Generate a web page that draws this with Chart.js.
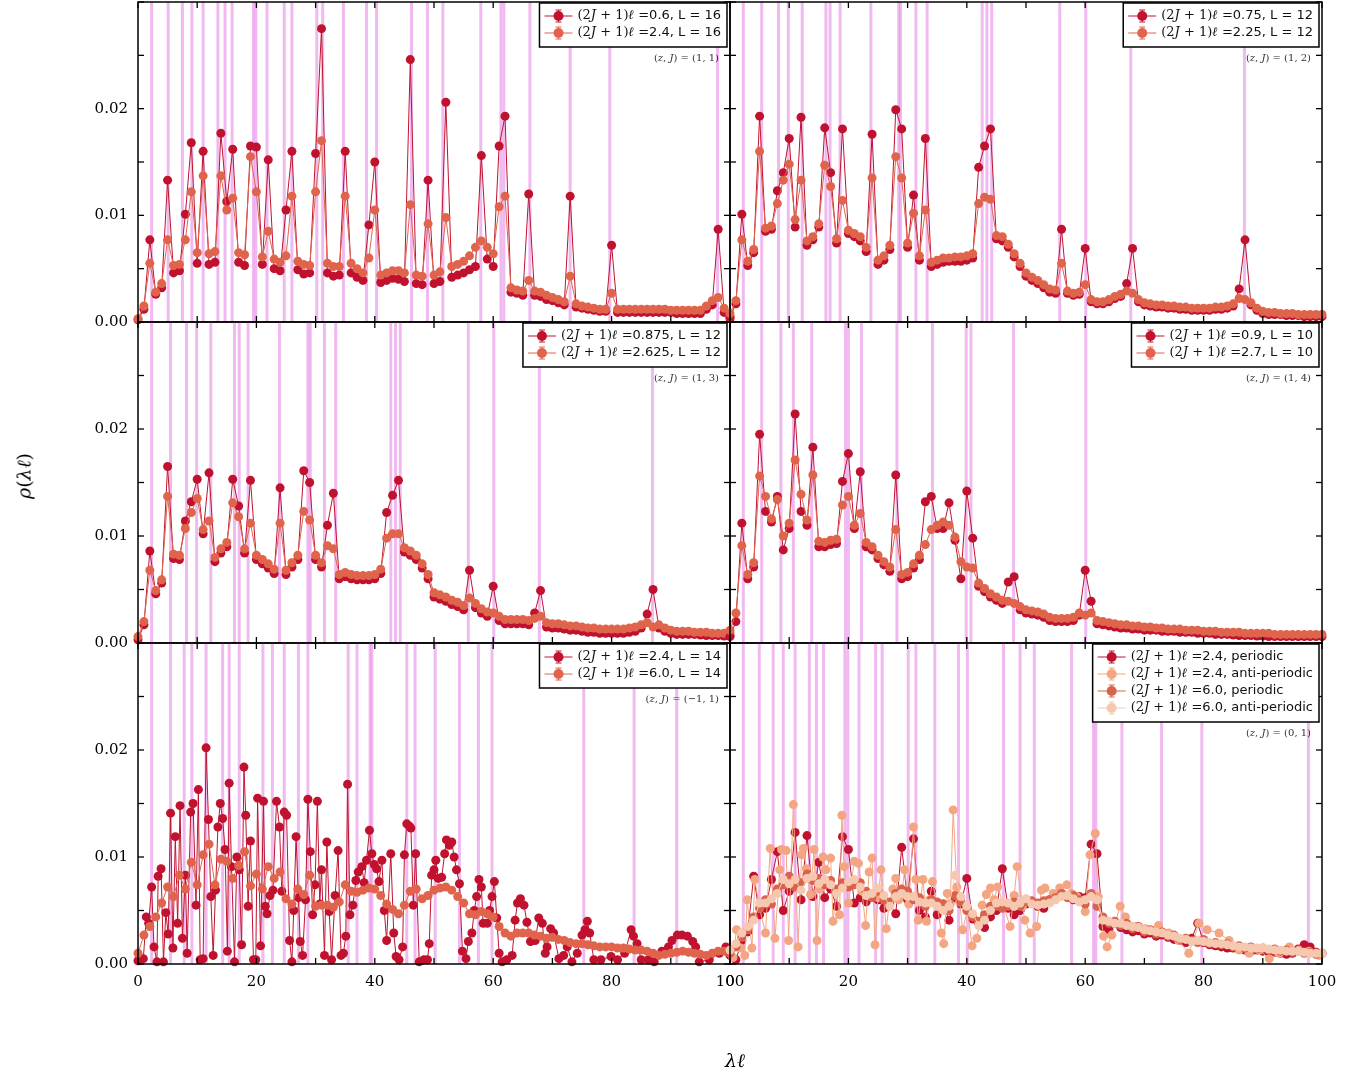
<!DOCTYPE html>
<html>
<head>
<meta charset="utf-8">
<script src="https://cdn.jsdelivr.net/npm/chart.js@4.4.1/dist/chart.umd.min.js"></script>
<style>
  body { margin: 0; background: #fff; width: 1372px; height: 1080px; position: relative; overflow: hidden; }
  canvas { position: absolute; left: 0; top: -40px; }
  .axt { position: absolute; font: 19px "DejaVu Serif", serif; color: #000; white-space: nowrap; }
  #ylab { left: 24px; top: 476px; transform: translate(-50%, -50%) rotate(-90deg); }
  #xlab { left: 735px; top: 1060px; transform: translate(-50%, -50%); }
</style>
</head>
<body>
<canvas id="c0" width="1372" height="1120"></canvas>
<canvas id="c1" width="1372" height="1120"></canvas>
<canvas id="c2" width="1372" height="1120"></canvas>
<canvas id="c3" width="1372" height="1120"></canvas>
<canvas id="c4" width="1372" height="1120"></canvas>
<canvas id="c5" width="1372" height="1120"></canvas>
<div id="ylab" class="axt"><i>ρ</i>(<i>λℓ</i>)</div>
<div id="xlab" class="axt"><i>λℓ</i></div>
<script>
// all densities in units of 1e-3
const xGrid = [0,1,2,3,4,5,6,7,8,9,10,11,12,13,14,15,16,17,18,19,20,21,22,23,24,25,26,27,28,29,
  30,31,32,33,34,35,36,37,38,39,40,41,42,43,44,45,46,47,48,49,50,51,52,53,54,55,56,57,58,59,
  60,61,62,63,64,65,66,67,68,69,70,71,72,73,74,75,76,77,78,79,80,81,82,83,84,85,86,87,88,89,
  90,91,92,93,94,95,96,97,98,99,100];

// (z,J) = (1,1)
const rhoTL06 = [0.2,1.2,7.7,2.6,3.2,13.3,4.6,4.8,10.1,16.8,
  5.5,16.0,5.4,5.6,17.7,11.3,16.2,5.6,5.3,16.5,
  16.4,5.4,15.2,5.0,4.8,10.5,16.0,4.9,4.5,4.6,
  15.8,27.5,4.6,4.3,4.4,16.0,4.6,4.2,3.9,9.1,
  15.0,3.7,3.9,4.1,4.0,3.8,24.6,3.6,3.5,13.3,
  3.6,3.8,20.6,4.2,4.4,4.6,4.9,5.2,15.6,5.9,
  5.2,16.5,19.3,2.8,2.7,2.5,12.0,2.5,2.4,2.1,
  2.0,1.8,1.6,11.8,1.4,1.3,1.2,1.1,1.0,1.0,
  7.2,0.9,0.9,0.9,0.9,0.9,0.9,0.9,0.9,0.9,
  0.9,0.8,0.8,0.8,0.8,0.8,1.2,1.6,8.7,0.9,
  0.3];
const rhoTL24 = [0.3,1.5,5.5,2.8,3.6,7.7,5.3,5.4,7.7,12.2,
  6.5,13.7,6.4,6.6,13.7,10.5,11.6,6.5,6.3,15.5,
  12.2,6.1,8.5,5.9,5.6,6.2,11.8,5.7,5.4,5.3,
  12.2,17.0,5.5,5.2,5.2,11.8,5.5,5.0,4.6,6.0,
  10.5,4.4,4.6,4.8,4.8,4.6,11.0,4.4,4.3,9.2,
  4.4,4.7,9.8,5.2,5.4,5.7,6.2,7.0,7.6,7.0,
  6.4,10.8,11.8,3.2,3.0,2.9,3.9,2.9,2.8,2.5,
  2.3,2.1,1.9,4.3,1.7,1.5,1.4,1.3,1.2,1.2,
  2.7,1.2,1.2,1.2,1.2,1.2,1.2,1.2,1.2,1.2,
  1.1,1.1,1.1,1.1,1.1,1.1,1.5,2.0,2.3,1.3,
  0.5];
const pinkTL = [2.3,5.1,7.5,9.1,11.0,13.5,14.7,15.9,19.5,19.9,21.8,24.7,26.0,30.2,31.2,34.7,
  38.6,40.3,46.2,48.9,51.5,57.9,61.3,61.8,66.2,73.0,79.7,97.9];

// (z,J) = (1,2)
const rhoTR075 = [0.5,1.7,10.1,5.3,6.5,19.3,8.5,8.7,12.3,14.0,
  17.2,8.9,19.2,7.2,7.7,8.9,18.2,14.0,7.4,18.1,
  8.3,8.0,7.6,6.6,17.6,5.4,5.8,6.8,19.9,18.1,
  7.0,11.9,5.8,17.2,5.2,5.4,5.6,5.7,5.7,5.7,
  5.8,6.0,14.5,16.5,18.1,7.8,7.6,7.0,6.1,5.2,
  4.3,3.9,3.6,3.2,2.8,2.7,8.7,2.7,2.5,2.6,
  6.9,1.9,1.7,1.7,1.9,2.2,2.4,3.6,6.9,1.9,
  1.6,1.5,1.4,1.4,1.3,1.3,1.2,1.2,1.1,1.1,
  1.1,1.1,1.2,1.2,1.3,1.5,3.1,7.7,1.6,1.1,
  0.8,0.7,0.7,0.7,0.6,0.6,0.6,0.5,0.5,0.5,
  0.5];
const rhoTR225 = [0.8,2.0,7.7,5.7,6.8,16.0,8.8,9.0,11.1,13.3,
  14.8,9.6,13.3,7.6,8.0,9.2,14.7,12.7,7.8,11.4,
  8.6,8.3,8.0,7.0,13.5,5.8,6.2,7.2,15.5,13.5,
  7.4,10.2,6.2,10.5,5.6,5.8,6.0,6.0,6.1,6.1,
  6.2,6.4,11.1,11.7,11.5,8.1,8.0,7.3,6.4,5.5,
  4.6,4.2,3.9,3.5,3.1,3.0,5.5,2.9,2.7,2.8,
  3.5,2.1,1.9,1.9,2.1,2.4,2.6,2.9,2.7,2.1,
  1.8,1.7,1.6,1.6,1.5,1.5,1.4,1.4,1.3,1.3,
  1.3,1.3,1.4,1.4,1.5,1.7,2.2,2.1,1.8,1.3,
  1.0,0.9,0.9,0.8,0.8,0.8,0.7,0.7,0.7,0.7,
  0.7];
const pinkTR = [2.25,5.35,8.2,9.85,12.2,16.2,16.9,18.6,23.8,28.5,28.8,31.4,33.3,42.6,43.4,44.2,
  55.7,60.1,67.7,86.9];

// (z,J) = (1,3)
const rhoML0875 = [0.3,1.7,8.6,4.6,5.6,16.5,7.9,7.8,11.4,13.2,
  15.3,10.2,15.9,7.6,8.4,9.0,15.3,12.8,8.4,15.2,
  7.8,7.4,7.0,6.5,14.5,6.4,7.1,7.8,16.1,15.0,
  7.8,7.1,11.0,14.0,6.0,6.2,6.0,5.9,5.9,5.9,
  6.0,6.5,12.2,13.8,15.2,8.5,8.2,7.8,7.0,6.0,
  4.3,4.1,3.9,3.6,3.4,3.1,6.8,3.3,2.8,2.5,
  5.3,2.1,1.8,1.8,1.8,1.8,1.7,2.8,4.9,1.5,
  1.4,1.4,1.3,1.2,1.2,1.1,1.0,1.0,0.9,0.9,
  0.9,0.9,0.9,1.0,1.1,1.4,2.7,5.0,1.4,1.1,
  0.9,0.8,0.8,0.8,0.8,0.75,0.7,0.7,0.7,0.65,
  0.65];
const rhoML2625 = [0.6,2.0,6.8,4.9,5.9,13.7,8.3,8.2,10.7,12.2,
  13.5,10.6,11.4,8.0,8.8,9.4,13.1,11.8,8.8,11.2,
  8.2,7.8,7.4,6.9,11.2,6.8,7.5,8.2,12.3,11.5,
  8.2,7.5,9.1,8.8,6.4,6.6,6.4,6.3,6.3,6.3,
  6.4,6.9,9.8,10.2,10.2,8.9,8.6,8.2,7.4,6.4,
  4.7,4.5,4.3,4.0,3.8,3.5,4.2,3.7,3.2,2.9,
  2.8,2.5,2.2,2.2,2.2,2.2,2.1,2.3,2.5,1.9,
  1.8,1.8,1.7,1.6,1.6,1.5,1.4,1.4,1.3,1.3,
  1.3,1.3,1.3,1.4,1.5,1.7,1.9,1.5,1.7,1.4,
  1.2,1.1,1.1,1.1,1.0,1.0,1.0,0.9,0.9,0.9,
  0.9];
const pinkML = [2.3,5.5,8.2,9.9,12.3,16.3,17.1,18.6,23.9,28.7,29.1,31.5,33.4,42.7,43.5,44.3,
  55.8,60.1,67.8,86.9];

// (z,J) = (1,4)
const rhoMR09 = [0.6,2.0,11.2,6.0,7.1,19.5,12.3,11.3,13.7,8.7,
  10.7,21.4,12.3,11.0,18.3,9.0,9.0,9.2,9.3,15.1,
  17.7,10.7,16.0,9.0,8.7,7.9,7.3,6.7,15.7,6.0,
  6.2,7.0,7.8,13.2,13.7,10.7,10.7,13.1,9.6,6.0,
  14.2,9.8,5.3,4.8,4.3,4.0,3.7,5.7,6.2,3.1,
  2.8,2.7,2.6,2.4,2.1,2.0,2.0,2.0,2.1,2.6,
  6.8,3.9,1.8,1.7,1.6,1.5,1.4,1.4,1.3,1.3,
  1.2,1.2,1.2,1.1,1.1,1.1,1.0,1.0,1.0,0.9,
  0.9,0.9,0.8,0.8,0.8,0.75,0.7,0.7,0.7,0.65,
  0.65,0.6,0.6,0.6,0.6,0.6,0.6,0.6,0.6,0.6,
  0.6];
const rhoMR27 = [1.2,2.8,9.1,6.4,7.5,15.6,13.7,11.6,13.4,10.0,
  11.2,17.1,13.9,11.5,15.7,9.5,9.4,9.6,9.7,12.9,
  13.7,11.0,12.1,9.4,9.0,8.2,7.6,7.1,10.6,6.4,
  6.6,7.4,8.2,9.2,10.6,11.0,11.3,11.0,9.9,7.6,
  7.1,7.0,5.6,5.1,4.6,4.3,4.0,3.9,3.7,3.4,
  3.1,3.0,2.9,2.7,2.4,2.3,2.3,2.3,2.4,2.8,
  2.6,2.8,2.1,2.0,1.9,1.8,1.7,1.7,1.6,1.6,
  1.5,1.5,1.4,1.4,1.3,1.3,1.3,1.2,1.2,1.2,
  1.1,1.1,1.1,1.0,1.0,1.0,1.0,0.9,0.9,0.9,
  0.9,0.9,0.8,0.8,0.8,0.8,0.8,0.8,0.8,0.8,
  0.8];
const pinkMR = [2.25,5.35,8.6,10.7,13.8,19.5,20.0,22.2,28.2,34.2,39.9,40.7,47.9,60.1];

// (z,J) = (-1,1)
const blDarkX = [0,0.9,1.4,1.8,2.3,2.7,3.2,3.4,3.9,4.3,
  4.7,5.1,5.5,5.9,6.3,6.7,7.1,7.5,8.0,8.3,
  8.9,9.3,9.8,10.2,10.5,11.0,11.5,11.9,12.3,12.7,
  13.1,13.5,13.9,14.3,14.7,15.1,15.4,15.8,16.3,16.7,
  17.1,17.5,17.9,18.2,18.6,19.0,19.5,19.9,20.2,20.7,
  21.2,21.5,21.8,22.3,22.8,23.4,23.9,24.3,24.7,25.1,
  25.6,26.0,26.3,26.7,27.1,27.4,27.8,28.3,28.7,29.1,
  29.5,29.9,30.3,30.7,31.0,31.5,31.9,32.3,32.7,33.3,
  33.8,34.3,34.7,35.1,35.4,35.8,36.3,36.8,37.2,37.8,
  38.2,38.6,39.1,39.5,39.9,40.3,40.7,41.2,41.6,42.0,
  42.7,43.2,43.6,44.1,44.7,45.0,45.4,45.8,46.1,46.5,
  46.9,47.5,48.3,48.9,49.2,49.6,50.0,50.3,50.7,51.3,
  51.8,52.1,52.6,53.0,53.4,53.8,54.3,54.8,55.4,55.8,
  56.4,56.8,57.2,57.6,58.0,58.3,59.0,59.4,59.8,60.2,
  60.6,61.0,61.5,62.3,63.2,63.7,64.1,64.6,65.2,65.7,
  66.3,67.1,67.7,68.3,68.8,69.1,69.7,70.2,71.1,71.9,
  72.5,73.3,74.2,75.0,75.5,75.9,76.3,77.0,78.2,79.9,
  81.0,82.2,83.3,83.7,84.3,85.0,86.2,87.2,88.5,89.6,
  90.2,91.1,91.9,92.8,93.7,94.2,94.8,96.5,98.2,99.3,
  100];
const blDarkY = [0.3,0.5,4.4,3.8,7.2,1.6,0.2,8.2,8.9,0.2,
  4.8,2.8,14.1,1.5,11.9,3.8,14.8,2.4,8.3,1.0,
  14.2,15.0,5.5,16.3,0.4,0.5,20.2,13.5,6.3,0.8,
  6.9,12.8,15.0,13.6,10.7,1.2,16.9,9.1,0.2,10.0,
  8.8,1.8,18.4,13.9,5.4,11.5,0.4,0.4,15.5,1.7,
  15.2,5.4,4.7,6.4,6.9,15.2,12.8,6.8,14.2,13.9,
  2.2,0.2,5.0,11.9,6.2,2.1,0.8,6.0,15.4,10.5,
  4.6,7.4,15.2,5.6,8.8,0.8,11.4,4.9,0.4,6.4,
  10.6,0.8,1.0,2.6,16.8,4.6,5.5,7.8,8.6,9.1,
  7.6,9.7,12.5,10.3,9.3,8.9,7.7,9.7,5.0,2.2,
  10.3,2.9,0.7,0.4,1.6,10.2,13.1,12.9,12.7,5.5,
  10.3,0.2,0.4,0.4,1.9,8.3,8.8,9.7,8.0,8.1,
  10.3,11.6,11.1,11.4,10.0,8.8,7.5,1.2,0.5,2.1,
  2.9,5.0,6.3,7.9,7.2,3.8,3.8,5.0,6.3,7.7,
  4.3,1.0,0.2,0.4,0.8,4.1,5.7,6.1,5.5,3.9,
  2.1,2.2,4.3,3.8,1.0,1.6,3.3,2.9,0.5,0.8,
  1.6,0.2,1.0,2.7,3.2,4.0,2.9,0.4,0.4,0.7,
  0.4,1.0,3.2,2.6,1.9,0.4,0.4,0.2,1.2,1.6,
  2.2,2.7,2.7,2.6,2.1,1.6,0.2,0.4,1.0,1.6,
  1.3];
const rhoBL60 = [1.0,2.7,3.5,4.4,5.7,7.2,6.3,8.3,7.0,9.5,
  7.4,10.2,11.2,7.4,9.8,9.6,8.0,9.2,10.5,7.3,
  8.4,7.0,9.1,8.0,8.6,6.1,5.6,7.0,6.5,8.3,
  5.4,5.5,5.5,5.3,5.8,7.4,6.8,6.7,6.9,7.1,
  7.0,6.4,5.6,5.1,4.7,5.5,6.8,7.0,6.1,6.4,
  6.9,7.1,7.2,6.9,6.3,5.7,4.7,4.6,4.9,4.7,
  4.4,3.5,2.9,2.6,2.9,2.9,2.9,2.7,2.6,2.4,
  2.5,2.3,2.2,2.0,1.9,1.9,1.8,1.7,1.6,1.6,
  1.6,1.5,1.5,1.4,1.3,1.3,1.2,1.0,0.8,0.9,
  1.0,1.1,1.2,1.1,1.0,0.9,0.8,1.0,1.2,1.2,
  1.2];
const pinkBL = [2.3,5.5,7.8,9.1,11.5,14.3,15.4,17.1,21.1,22.7,24.7,27.1,28.7,35.5,37.0,39.2,39.5,
  45.4,46.8,50.2,54.3,57.5,59.8,75.3,83.8,91.0];

// (z,J) = (0,1)
const brPer24 = [0.8,0.4,2.2,3.0,8.2,4.6,5.2,7.9,10.5,5.0,
  6.8,12.3,6.0,12.0,6.3,9.5,6.2,7.0,5.4,11.9,
  10.7,5.7,6.2,5.8,6.4,6.0,5.2,5.6,4.7,10.9,
  6.0,11.7,5.0,4.4,6.8,4.6,5.6,4.1,6.2,5.6,
  8.0,4.2,3.8,3.4,4.4,5.0,8.9,5.2,4.6,5.0,
  5.6,5.8,5.4,5.2,6.0,6.4,6.6,6.3,6.0,6.3,
  6.2,11.2,10.3,3.5,3.2,3.8,3.4,3.2,3.0,3.1,
  2.8,2.9,2.6,2.7,2.5,2.3,2.2,2.0,2.4,3.8,
  2.0,1.8,1.7,1.6,1.5,1.5,1.4,1.3,1.2,1.3,
  1.2,1.1,1.1,1.0,0.9,1.0,1.4,1.8,1.6,1.1,
  1.0];
const brAnti24X = [0.5,1.1,1.8,2.5,2.9,3.7,4.2,5.0,6.0,6.8,
  7.6,8.4,8.7,9.5,9.9,10.7,11.5,12.1,12.4,12.9,
  13.6,14.2,14.7,15.2,15.7,16.2,17.0,17.4,18.0,18.5,
  18.9,19.3,20.0,20.5,21.0,21.7,22.3,22.9,23.5,24.0,
  24.5,25.0,25.5,26.4,26.9,27.5,28.0,28.5,29.1,29.5,
  30.2,31.0,31.4,31.8,32.6,33.2,33.7,34.2,35.0,35.7,
  36.1,36.7,37.2,37.7,38.3,38.8,39.3,40.1,40.9,41.7,
  42.6,43.3,44.0,44.6,45.2,46.2,47.3,48.0,48.5,49.4,
  49.8,50.7,51.8,52.6,53.2,54.6,55.7,56.9,57.7,58.6,
  60.0,60.8,61.7,62.2,63.1,63.7,64.5,65.9,66.8,68.5,
  70.2,72.4,74.1,75.8,77.5,79.2,80.6,82.6,84.3,86.0,
  87.7,89.4,91.1,92.8,94.5,96.1,97.8,99.5];
const brAnti24Y = [0.6,3.2,1.5,0.8,6.0,1.5,7.9,5.2,2.9,10.8,
  2.4,8.8,10.7,10.6,2.2,14.9,1.6,10.2,10.8,8.9,
  6.5,10.7,2.2,7.0,10.0,8.8,9.9,4.0,6.8,4.6,
  13.9,9.1,5.7,7.6,9.6,9.4,6.8,3.6,8.6,9.9,
  1.8,6.2,8.8,3.3,5.7,7.0,8.0,6.0,6.9,8.8,
  5.6,12.8,7.9,4.1,7.9,4.0,6.0,7.7,5.5,2.9,
  1.9,6.6,5.6,14.4,7.2,5.8,3.2,5.0,1.7,2.4,
  5.5,6.5,7.1,6.0,7.2,5.5,3.5,6.4,9.1,5.4,
  4.1,2.9,3.5,6.9,7.1,6.6,7.1,7.4,6.6,6.3,
  4.9,10.2,12.2,6.3,2.6,1.6,2.7,5.4,4.4,3.5,
  3.3,3.6,2.9,2.2,1.0,3.8,3.2,2.9,2.2,1.3,
  1.0,1.3,0.5,1.0,1.6,1.3,1.2,0.8];
const brPer60 = [1.0,1.6,2.5,3.2,4.4,5.2,6.0,5.6,7.0,7.4,
  8.2,7.2,7.6,8.4,7.8,8.0,7.4,7.8,7.0,7.6,
  7.2,7.4,7.6,6.8,6.2,6.8,6.0,5.8,6.6,7.0,
  6.8,6.0,6.2,5.4,6.0,5.8,5.6,5.0,6.4,5.8,
  5.0,4.4,4.0,4.6,5.4,5.4,5.2,5.4,5.8,5.4,
  5.8,5.9,5.7,5.9,6.0,6.2,6.6,6.2,6.4,6.0,
  5.6,6.6,5.4,4.4,3.8,4.0,3.6,3.8,3.3,3.5,
  3.0,3.2,2.8,3.0,2.6,2.7,2.3,2.4,2.2,2.0,
  2.3,1.9,2.0,1.8,1.9,1.6,1.7,1.5,1.6,1.4,
  1.5,1.3,1.4,1.2,1.3,1.1,1.2,1.0,1.1,0.9,
  1.0];
const brAnti60 = [1.3,1.9,2.9,3.5,4.1,5.7,5.7,6.1,6.6,7.9,
  7.5,7.9,6.9,8.0,8.2,7.5,7.9,7.4,6.6,7.1,
  7.7,7.9,7.2,6.4,6.6,7.1,6.4,5.4,6.3,6.6,
  6.3,6.3,5.8,5.7,5.7,5.4,5.0,5.4,8.3,6.3,
  5.4,4.7,3.6,4.1,5.0,5.7,5.8,5.7,5.4,5.7,
  6.1,5.6,5.5,5.6,5.7,6.0,6.3,6.4,6.1,5.8,
  6.0,6.3,6.0,4.1,4.0,3.8,3.8,3.6,3.5,3.4,
  3.2,3.1,3.0,2.9,2.7,2.6,2.4,2.3,2.1,2.2,
  2.1,2.0,1.9,1.9,1.8,1.7,1.6,1.6,1.5,1.5,
  1.5,1.4,1.3,1.3,1.2,1.2,1.2,1.1,1.0,1.0,
  1.0];
const pinkBR = [2.25,4.95,7.3,9.0,11.0,13.4,14.6,15.8,19.4,19.9,21.8,24.6,25.7,30.1,31.4,34.6,
  38.6,40.1,46.2,49.0,51.4,57.7,61.4,61.8,66.2,72.9,79.7,97.7];

const DARK = "#c0122f";
const ORANGE = "#e0644c";
const SALMON = "#f4a582";
const MID = "#d9624d";
const LIGHT = "#f6c8b0";
const PINK = "rgba(230, 140, 230, 0.6)";
const SERIF = '"DejaVu Serif", serif';
const SANS = '"DejaVu Sans", sans-serif';
const LEG_PX = 13;
const SHIFT = 40; // canvases start 40px above the page so the top row gets its own margin

const panels = [
  { id: "c0", col: 0, row: 0, pink: pinkTL, note: ["(", "z", ", ", "J", ") = (1, 1)"], series: [
    { label: "(2J + 1)ℓ =0.6, L = 16", x: xGrid, y: rhoTL06, color: DARK },
    { label: "(2J + 1)ℓ =2.4, L = 16", x: xGrid, y: rhoTL24, color: ORANGE } ] },
  { id: "c1", col: 1, row: 0, pink: pinkTR, note: ["(", "z", ", ", "J", ") = (1, 2)"], series: [
    { label: "(2J + 1)ℓ =0.75, L = 12", x: xGrid, y: rhoTR075, color: DARK },
    { label: "(2J + 1)ℓ =2.25, L = 12", x: xGrid, y: rhoTR225, color: ORANGE } ] },
  { id: "c2", col: 0, row: 1, pink: pinkML, note: ["(", "z", ", ", "J", ") = (1, 3)"], series: [
    { label: "(2J + 1)ℓ =0.875, L = 12", x: xGrid, y: rhoML0875, color: DARK },
    { label: "(2J + 1)ℓ =2.625, L = 12", x: xGrid, y: rhoML2625, color: ORANGE } ] },
  { id: "c3", col: 1, row: 1, pink: pinkMR, note: ["(", "z", ", ", "J", ") = (1, 4)"], series: [
    { label: "(2J + 1)ℓ =0.9, L = 10", x: xGrid, y: rhoMR09, color: DARK },
    { label: "(2J + 1)ℓ =2.7, L = 10", x: xGrid, y: rhoMR27, color: ORANGE } ] },
  { id: "c4", col: 0, row: 2, pink: pinkBL, note: ["(", "z", ", ", "J", ") = (−1, 1)"], series: [
    { label: "(2J + 1)ℓ =2.4, L = 14", x: blDarkX, y: blDarkY, color: DARK },
    { label: "(2J + 1)ℓ =6.0, L = 14", x: xGrid, y: rhoBL60, color: ORANGE } ] },
  { id: "c5", col: 1, row: 2, pink: pinkBR, note: ["(", "z", ", ", "J", ") = (0, 1)"], series: [
    { label: "(2J + 1)ℓ =2.4, periodic", x: xGrid, y: brPer24, color: DARK },
    { label: "(2J + 1)ℓ =2.4, anti-periodic", x: brAnti24X, y: brAnti24Y, color: SALMON },
    { label: "(2J + 1)ℓ =6.0, periodic", x: xGrid, y: brPer60, color: MID },
    { label: "(2J + 1)ℓ =6.0, anti-periodic", x: xGrid, y: brAnti60, color: LIGHT } ] }
];

function labelParts(label) {
  const rest = label.slice(label.indexOf("=") + 1);
  return [
    ["(2", `${LEG_PX}px ${SERIF}`],
    ["J", `italic ${LEG_PX}px ${SERIF}`],
    [" + 1)", `${LEG_PX}px ${SERIF}`],
    ["ℓ", `italic bold ${LEG_PX}px ${SERIF}`],
    [" =", `${LEG_PX}px ${SERIF}`],
    [rest, `${LEG_PX}px ${SANS}`]
  ];
}
function partsWidth(ctx, parts) {
  let w = 0;
  parts.forEach(([t, f]) => { ctx.font = f; w += ctx.measureText(t).width; });
  return w;
}
function drawParts(ctx, parts, x, y) {
  parts.forEach(([t, f]) => { ctx.font = f; ctx.fillText(t, x, y); x += ctx.measureText(t).width; });
}
function seg(ctx, x1, y1, x2, y2) {
  ctx.beginPath(); ctx.moveTo(x1, y1); ctx.lineTo(x2, y2); ctx.stroke();
}

const decor = {
  id: "decor",
  beforeDatasetsDraw(chart, args, o) {
    const { ctx, chartArea: a, scales: { x } } = chart;
    ctx.save();
    ctx.beginPath(); ctx.rect(a.left, a.top, a.right - a.left, a.bottom - a.top); ctx.clip();
    ctx.strokeStyle = PINK; ctx.lineWidth = 3;
    o.pink.forEach(v => { const px = x.getPixelForValue(v); seg(ctx, px, a.top, px, a.bottom); });
    ctx.restore();
  },
  afterDraw(chart, args, o) {
    const { ctx, chartArea: a, scales: { x, y } } = chart;
    ctx.save();
    // inward ticks on all four sides
    ctx.strokeStyle = "#000"; ctx.lineWidth = 1.3;
    x.ticks.forEach(t => {
      const px = x.getPixelForValue(t.value);
      seg(ctx, px, a.bottom, px, a.bottom - 6); seg(ctx, px, a.top, px, a.top + 6);
    });
    y.ticks.forEach(t => {
      const py = y.getPixelForValue(t.value);
      seg(ctx, a.left, py, a.left + 6, py); seg(ctx, a.right, py, a.right - 6, py);
    });
    ctx.lineWidth = 1.5;
    ctx.strokeRect(a.left, a.top, a.right - a.left, a.bottom - a.top);

    // legend box
    const ds = chart.data.datasets;
    const items = ds.map(d => labelParts(d.label));
    const tw = Math.max(...items.map(p => partsWidth(ctx, p)));
    const bw = 38 + tw + 6, bh = 13 + 17 * (ds.length - 1) + 14;
    const bx = a.right - 3 - bw, by = a.top + 1;
    ctx.fillStyle = "#fff"; ctx.fillRect(bx, by, bw, bh);
    ctx.lineWidth = 1.5; ctx.strokeStyle = "#000"; ctx.strokeRect(bx, by, bw, bh);
    ds.forEach((d, i) => {
      const cy = by + 13 + 17 * i, cx = bx + 19;
      ctx.strokeStyle = d.borderColor; ctx.fillStyle = d.borderColor; ctx.lineWidth = 1;
      seg(ctx, bx + 5, cy, bx + 33, cy);
      seg(ctx, cx, cy - 6, cx, cy + 6);
      seg(ctx, cx - 3, cy - 6, cx + 3, cy - 6); seg(ctx, cx - 3, cy + 6, cx + 3, cy + 6);
      ctx.beginPath(); ctx.arc(cx, cy, 5, 0, Math.PI * 2); ctx.fill();
      ctx.fillStyle = "#111"; ctx.textBaseline = "middle"; ctx.textAlign = "left";
      drawParts(ctx, items[i], bx + 38, cy);
    });

    // (z, J) note
    const noteParts = o.note.map((t, i) => [t, (i === 1 || i === 3 ? "italic " : "") + "10px " + SERIF]);
    const nw = partsWidth(ctx, noteParts);
    ctx.fillStyle = "#333"; ctx.textBaseline = "middle";
    drawParts(ctx, noteParts, a.right - 11 - nw, by + bh + 11);
    ctx.restore();
  }
};

function makeChart(p) {
  const L = p.col ? 730 : 138, R = p.col ? 1322 : 730;
  const T = [2, 322, 643][p.row] + SHIFT, B = [322, 643, 964][p.row] + SHIFT;
  const yw = p.col ? 0 : 138, xh = p.row === 2 ? 40 : 0;
  const n = p.series.length;
  const tickFont = { family: '"DejaVu Serif", serif', size: 15 };
  return new Chart(document.getElementById(p.id), {
    type: "scatter",
    data: {
      datasets: p.series.map((s, i) => ({
        label: s.label,
        data: s.x.map((xv, k) => ({ x: xv, y: s.y[k] })),
        showLine: true,
        order: n - i,
        borderColor: s.color,
        backgroundColor: s.color,
        pointBackgroundColor: s.color,
        pointBorderColor: s.color,
        borderWidth: 1,
        pointRadius: 4.5,
        pointBorderWidth: 0,
        clip: false
      }))
    },
    options: {
      responsive: false,
      animation: false,
      events: [],
      layout: { autoPadding: false, padding: { left: L - yw, right: 1372 - R, top: T, bottom: 1080 + SHIFT - B - xh } },
      scales: {
        x: {
          type: "linear", min: 0, max: 100,
          grid: { display: false, drawTicks: false }, border: { display: false },
          ticks: { stepSize: 10, padding: 9, autoSkip: false, maxRotation: 0, font: tickFont, color: "#000",
            callback: v => (p.row === 2 && v % 20 === 0) ? String(v) : "" },
          afterFit: s => { s.height = xh; }
        },
        y: {
          type: "linear", min: 0, max: 30,
          grid: { display: false, drawTicks: false }, border: { display: false },
          ticks: { stepSize: 5, padding: 10, autoSkip: false, font: tickFont, color: "#000",
            callback: v => (p.col === 0 && v % 10 === 0 && v < 30) ? (v / 1000).toFixed(2) : "" },
          afterFit: s => { s.width = yw; }
        }
      },
      plugins: {
        legend: { display: false },
        tooltip: { enabled: false },
        decor: { pink: p.pink, note: p.note }
      }
    },
    plugins: [decor]
  });
}

panels.forEach(makeChart);
</script>
</body>
</html>
